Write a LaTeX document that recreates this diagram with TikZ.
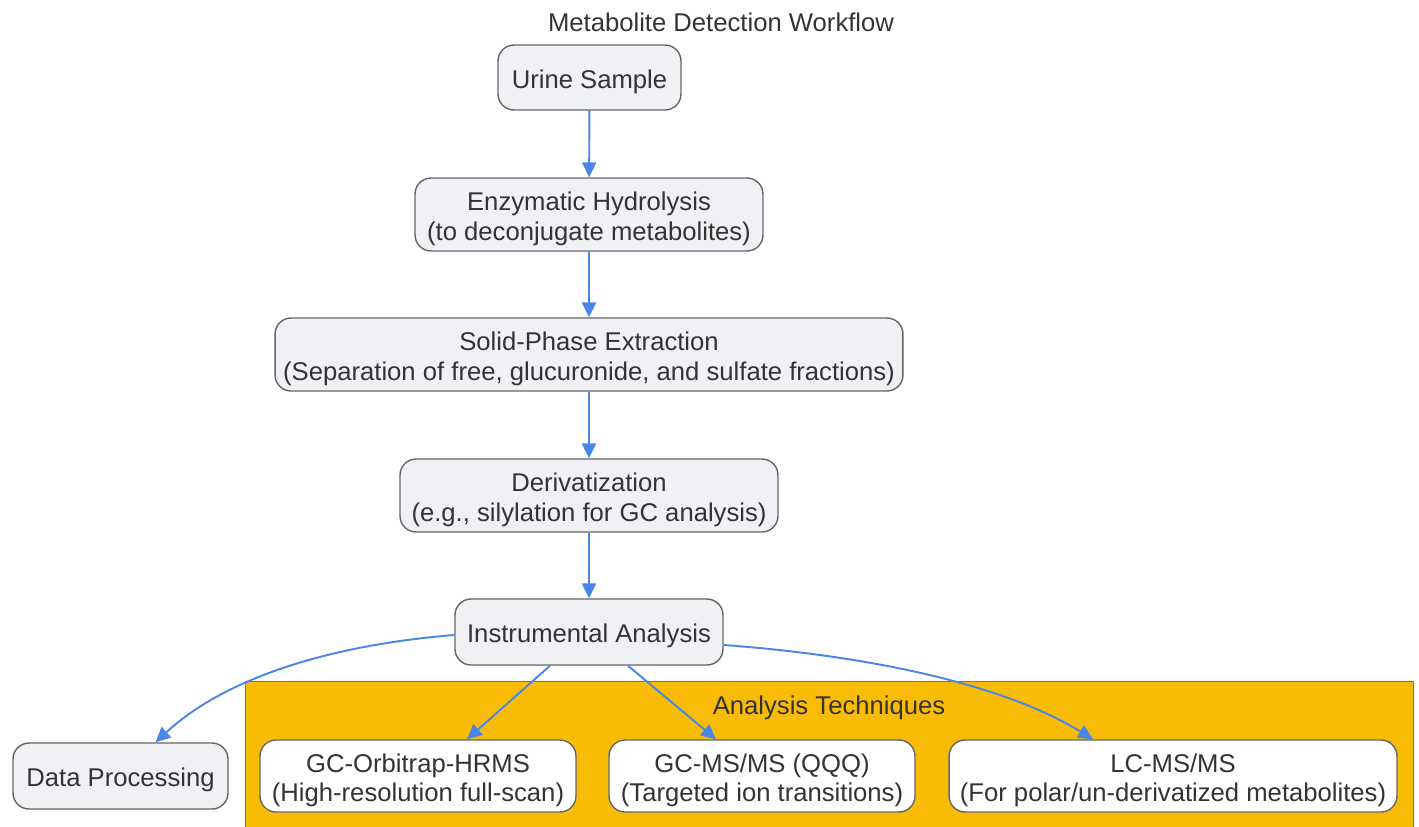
\documentclass[tikz,border=0pt]{standalone}
\usepackage{fontspec}
\setmainfont{Liberation Sans}
\usepackage{tikz}
\usetikzlibrary{shapes,arrows,positioning,calc,arrows.meta}
\usepackage{xcolor}
\definecolor{nodefill}{HTML}{F0F1F4}
\definecolor{nodeline}{HTML}{666666}
\definecolor{linkblue}{HTML}{4A86E8}
\definecolor{clusterfill}{HTML}{F9BC06}
\definecolor{clusterline}{HTML}{E8453C}
\definecolor{textgray}{HTML}{333333}
\newcommand{\tstrut}{\rule{0pt}{15.7pt}}

\begin{document}
\begin{tikzpicture}[
    x=0.02cm, y=-0.02cm,
    every node/.style={font=\fontsize{14.6}{17}\selectfont, text=textgray},
    lowered/.style={execute at begin node={\rule{0pt}{15.3pt}}, execute at end node={\rule[-3.2pt]{0pt}{0pt}}},
    box/.style={rectangle, draw=nodeline, line width=0.8pt, fill=nodefill, rounded corners=0.32cm, align=center, inner sep=0pt, lowered},
    techbox/.style={box, fill=white},
    flow/.style={draw=linkblue, line width=1.1pt, -{Triangle[length=8.5pt,width=8pt]}},
    cluster/.style={rectangle, draw=clusterline, line width=0.6pt, fill=clusterfill, inner sep=0pt}
]
    \useasboundingbox (0,0) rectangle (1419,826);

    % Title
    \node (title) at (721, 22) {Metabolite Detection Workflow};

    % Cluster
    \node[cluster, minimum width=23.38cm, minimum height=3cm] (techs) at (829.5, 756) {};
    \node[lowered] (techlabel) at (829, 704) {Analysis Techniques};

    % Main steps
    \node[box, minimum width=3.66cm, minimum height=1.3cm] (urine) at (589.5, 77.5) {Urine Sample};
    \node[box, minimum width=6.96cm, minimum height=1.46cm] (hydro) at (589, 214.5) {\tstrut Enzymatic Hydrolysis\\(to deconjugate metabolites)};
    \node[box, minimum width=12.56cm, minimum height=1.46cm] (spe) at (589, 354.5) {\tstrut Solid-Phase Extraction\\(Separation of free, glucuronide, and sulfate fractions)};
    \node[box, minimum width=7.56cm, minimum height=1.46cm] (deriv) at (589, 495.5) {\tstrut Derivatization\\(e.g., silylation for GC analysis)};
    \node[box, minimum width=5.36cm, minimum height=1.32cm] (instr) at (589, 632) {Instrumental Analysis};
    \node[box, minimum width=4.3cm, minimum height=1.32cm] (data) at (120.5, 776) {Data Processing};

    % Techniques
    \node[techbox, minimum width=6.32cm, minimum height=1.44cm] (orbi) at (418, 776) {\tstrut GC-Orbitrap-HRMS\\(High-resolution full-scan)};
    \node[techbox, minimum width=6.12cm, minimum height=1.44cm] (qqq) at (762, 776) {\tstrut GC-MS/MS (QQQ)\\(Targeted ion transitions)};
    \node[techbox, minimum width=8.96cm, minimum height=1.44cm] (lcms) at (1173, 776) {\tstrut LC-MS/MS\\(For polar/un-derivatized metabolites)};

    % Links
    \draw[flow] (urine) -- (hydro);
    \draw[flow] (hydro) -- (spe);
    \draw[flow] (spe) -- (deriv);
    \draw[flow] (deriv) -- (instr);
    \draw[flow] ([yshift=-0.06cm]instr.west) .. controls (330,645) and (225,678) .. ([xshift=0.7cm]data.north);
    \draw[flow] ([xshift=-0.78cm]instr.south) -- ([xshift=0.98cm]orbi.north);
    \draw[flow] ([xshift=0.78cm]instr.south) -- ([xshift=-0.92cm]qqq.north);
    \draw[flow] ([yshift=-0.26cm]instr.east) .. controls (860,655) and (1000,682) .. ([xshift=-1.6cm]lcms.north);
\end{tikzpicture}
\end{document}
